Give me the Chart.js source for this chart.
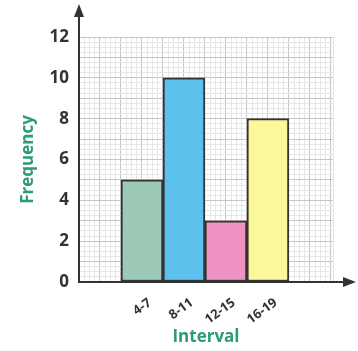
<!DOCTYPE html>
<html>
<head>
<meta charset="utf-8">
<script src="https://cdn.jsdelivr.net/npm/chart.js@4"></script>
<style>
  html, body { margin: 0; padding: 0; background: #fff; }
  #wrap { width: 358px; height: 351px; }
</style>
</head>
<body>
<div id="wrap"><canvas id="histChart" width="358" height="351"></canvas></div>
<script>
//Chart data
const intervals = ['4-7', '8-11', '12-15', '16-19'];
const frequencies = [5, 10, 3, 8];
const barColors = ['#9ccab6', '#5cc1ec', '#ee92c2', '#fbf89c'];
const yTickLabels = [0, 2, 4, 6, 8, 10, 12];

// each class is 2 grid units wide, first one starts 2 units from the y axis
const classStart = 2;
const classWidth = 2;
const xMax = 12.1;
const yMax = 12;

const tickFont = { family: 'Open Sans', size: 17, weight: 'bold' };
const titleFont = { family: 'Open Sans', size: 17, weight: 'bold' };
const titleColor = '#2a9c7c';

function classCentre(i) {
  return classStart + classWidth * i + classWidth / 2;
}

// graph paper lines: darker on whole units, faint quarter lines
function gridColor(ctx) {
  if (!ctx.tick) return '#c6c6c6';
  const v = ctx.tick.value;
  return Math.abs(v - Math.round(v)) < 1e-6 ? '#c6c6c6' : '#e6e6e6';
}

function quarterTicks(max) {
  const ticks = [];
  for (let i = 0; i <= max * 4 + 1e-6; i++) ticks.push({ value: i / 4 });
  if (ticks[ticks.length - 1].value < max - 1e-6) ticks.push({ value: max });
  return ticks;
}

// arrow heads at the end of both axes
const axisArrows = {
  id: 'axisArrows',
  afterDraw(chart) {
    const { ctx, chartArea } = chart;
    const x0 = chart.scales.x.getPixelForValue(0);
    const y0 = chart.scales.y.getPixelForValue(0);
    ctx.save();
    ctx.strokeStyle = '#333';
    ctx.fillStyle = '#333';
    ctx.lineWidth = 2;
    ctx.beginPath();
    ctx.moveTo(x0, chartArea.top);
    ctx.lineTo(x0, 14);
    ctx.moveTo(chartArea.right, y0);
    ctx.lineTo(346, y0);
    ctx.stroke();
    ctx.beginPath();
    ctx.moveTo(x0, 4);
    ctx.lineTo(x0 - 5, 17);
    ctx.lineTo(x0 + 5, 17);
    ctx.closePath();
    ctx.fill();
    ctx.beginPath();
    ctx.moveTo(356, y0);
    ctx.lineTo(343, y0 - 5);
    ctx.lineTo(343, y0 + 5);
    ctx.closePath();
    ctx.fill();
    ctx.restore();
  },
};

function createChart() {
  const chartContext = document.getElementById('histChart').getContext('2d');

  const chart = new Chart(chartContext, {
    type: 'bar',
    data: {
      datasets: [{
        label: 'Frequency',
        data: frequencies.map((f, i) => ({ x: classCentre(i), y: f })),
        backgroundColor: barColors,
        borderColor: '#333',
        borderWidth: 2,
        borderSkipped: false,
        barPercentage: 1,
        categoryPercentage: 1,
      }],
    },
    options: {
      responsive: false,
      animation: false,
      layout: { padding: { top: 37, right: 25, left: 0, bottom: 0 } },
      plugins: { legend: { display: false }, tooltip: { enabled: false } },
      scales: {
        // axis carrying the bars and the interval labels
        x: {
          type: 'linear',
          min: 0,
          max: xMax,
          offset: false,
          weight: 1,
          afterBuildTicks: (scale) => {
            scale.ticks = intervals.map((_, i) => ({ value: classCentre(i) }));
          },
          afterFit: (scale) => { scale.height = 69; },
          grid: { display: false, offset: false },
          border: { color: '#333', width: 2 },
          ticks: {
            autoSkip: false,
            minRotation: 36,
            maxRotation: 36,
            padding: 5,
            labelOffset: 8,
            color: '#333',
            font: { family: 'Open Sans', size: 13, weight: 'bold' },
            callback: (value) => intervals[Math.round((value - classStart - classWidth / 2) / classWidth)],
          },
          title: {
            display: true,
            text: 'Interval',
            color: titleColor,
            font: titleFont,
            padding: { top: 0, bottom: 4 },
          },
        },
        // graph paper only
        xg: {
          type: 'linear',
          position: 'bottom',
          min: 0,
          max: xMax,
          offset: false,
          weight: 2,
          afterBuildTicks: (scale) => { scale.ticks = quarterTicks(xMax); },
          afterFit: (scale) => { scale.height = 0; },
          grid: { color: gridColor, drawTicks: false, lineWidth: 1, offset: false },
          border: { display: false },
          ticks: { display: false },
        },
        y: {
          min: 0,
          max: yMax,
          afterBuildTicks: (scale) => { scale.ticks = quarterTicks(yMax); },
          afterFit: (scale) => { scale.width = 79; },
          grid: { color: gridColor, drawTicks: false, lineWidth: 1 },
          border: { color: '#333', width: 2 },
          ticks: {
            autoSkip: false,
            padding: 10,
            color: '#333',
            font: tickFont,
            callback: (value) => (yTickLabels.includes(value) ? String(value) : ''),
          },
          title: {
            display: true,
            text: 'Frequency',
            color: titleColor,
            font: titleFont,
            padding: { top: 18, bottom: 0 },
          },
        },
      },
    },
    plugins: [axisArrows],
  });

  return chart;
}

createChart();
</script>
</body>
</html>
